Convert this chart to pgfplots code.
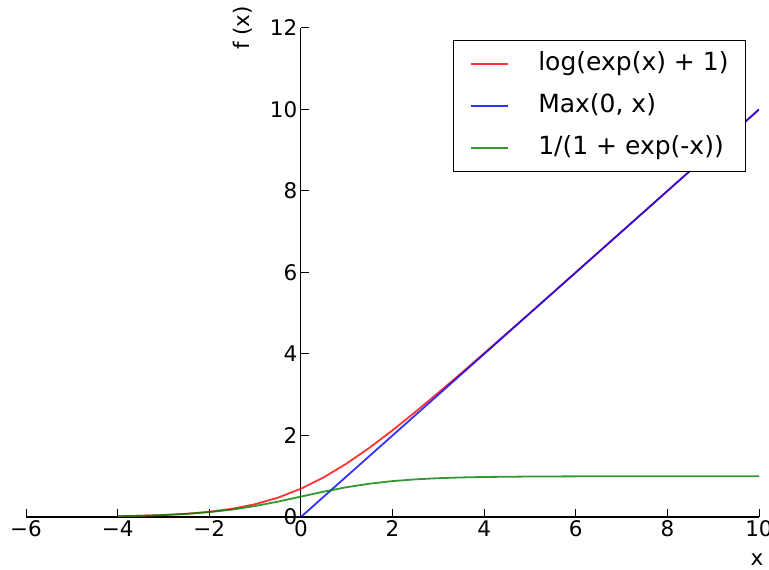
\documentclass[border=0pt]{standalone}
\usepackage{fontspec}
\setmainfont{DejaVu Sans}
\usepackage{pgfplots}
\pgfplotsset{compat=1.18}
\definecolor{mplgreen}{rgb}{0,0.5,0}
\begin{document}
\begin{tikzpicture}
\begin{axis}[
  name=ax,
  scale only axis, width=733pt, height=489pt,
  xmin=-6, xmax=10, ymin=0, ymax=12,
  axis lines=middle,
  axis line style={-, line width=1.2pt},
  hide obscured x ticks=false, hide obscured y ticks=false,
  xtick={-6,-4,...,10}, ytick={0,2,...,12},
  xticklabels={−6,−4,−2,0,2,4,6,8,10},
  yticklabels={0,2,4,6,8,10,12},
  tick style={black, line width=1pt},
  major tick length=8pt,
  tick align=inside,
  font=\fontsize{21.5}{26}\selectfont,
  xlabel={x}, ylabel={f (x)},
  xlabel style={at={(axis cs:10,0)}, anchor=base, yshift=-49pt, xshift=-2pt},
  ylabel style={at={(axis cs:-1.27,12)}, anchor=center, rotate=90},
  legend style={at={(axis description cs:0.9823,0.9755)}, anchor=north east,
    draw=black, line width=1pt, font=\fontsize{25}{30}\selectfont,
    inner xsep=17pt, inner ysep=11pt, row sep=17pt,
    nodes={inner sep=0pt, text height=19pt, text depth=6pt},
    /tikz/every odd column/.append style={column sep=29pt}},
  legend cell align=left,
  legend image code/.code={\draw[#1] (0pt,0pt) -- (37pt,0pt);},
]
\addplot[red, line width=1.8pt, opacity=0.8] coordinates {
(-4,0.018150) (-3.5,0.029750) (-3,0.048587) (-2.5,0.078889) (-2,0.126928)
(-1.5,0.201413) (-1,0.313262) (-0.5,0.474077) (0,0.693147) (0.5,0.974077)
(1,1.313262) (1.5,1.701413) (2,2.126928) (2.5,2.578889) (3,3.048587)
(3.5,3.529750) (4,4.018150) (4.5,4.511047) (5,5.006715) (5.5,5.504078)
(6,6.002476) (7,7.000911) (8,8.000335) (9,9.000123) (10,10.000045)
};
\addlegendentry{log(exp(x) + 1)}
\addplot[blue, line width=1.8pt, opacity=0.8] coordinates {(0,0) (10,10)};
\addlegendentry{Max(0, x)}
\addplot[mplgreen, line width=1.8pt, opacity=0.8] coordinates {
(-4,0.017986) (-3.5,0.029312) (-3,0.047426) (-2.5,0.075858) (-2,0.119203)
(-1.5,0.182426) (-1,0.268941) (-0.5,0.377541) (0,0.5) (0.5,0.622459)
(1,0.731059) (1.5,0.817574) (2,0.880797) (2.5,0.924142) (3,0.952574)
(3.5,0.970688) (4,0.982014) (5,0.993307) (6,0.997527) (7,0.999089)
(8,0.999665) (9,0.999877) (10,0.999955)
};
\addlegendentry{1/(1 + exp(-x))}
\end{axis}
\pgfresetboundingbox
\path ([xshift=-26pt, yshift=-53pt]ax.south west) rectangle ([xshift=10pt, yshift=28pt]ax.north east);
\end{tikzpicture}
\end{document}
